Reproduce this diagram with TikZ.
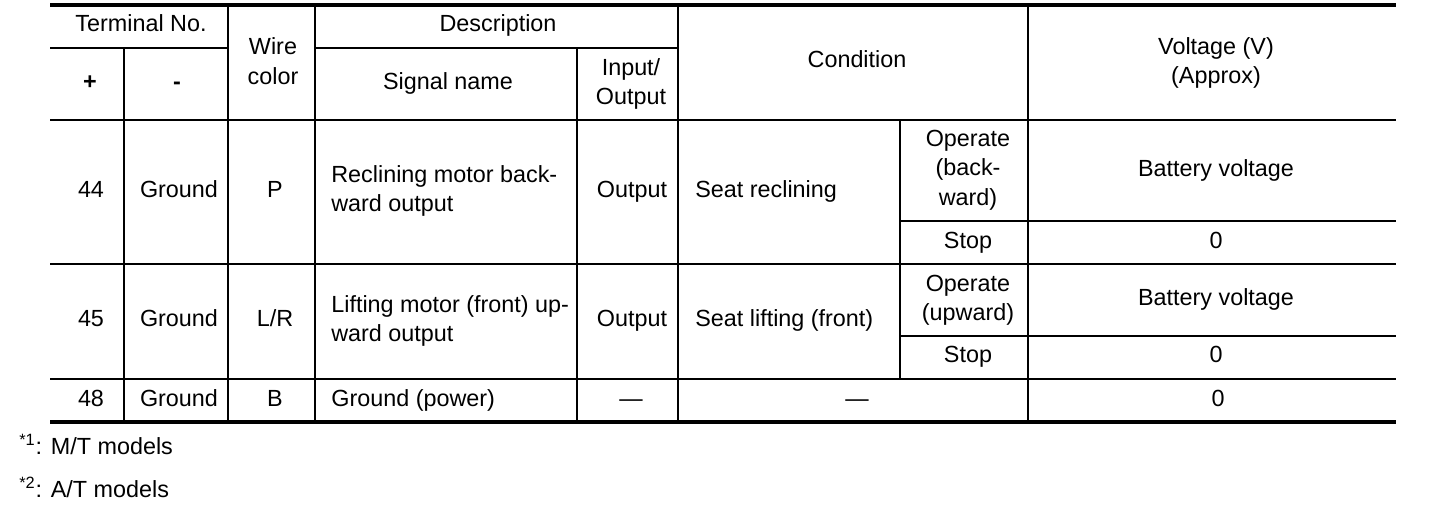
\documentclass[tikz,border=0pt]{standalone}
\usepackage{fontspec}
\setmainfont{Liberation Sans}
\begin{document}
\begin{tikzpicture}[x=0.02cm,y=-0.02cm,
    mline/.style={font=\fontsize{13.3}{16.7}\selectfont, align=center, inner sep=0pt},
    cell/.style={mline, text height=0.9em, text depth=0pt},
    lcell/.style={mline, align=left, anchor=west},
    note/.style={mline, align=left, anchor=base west},
    rule/.style={line width=0.6pt},
    rowrule/.style={line width=1.1pt},
    heavyrule/.style={line width=2.4pt}]
   \useasboundingbox (0,0) rectangle (1440,516);

   % horizontal rules
   \draw[heavyrule] (50,5) -- (1396,5);
   \draw[rule] (50,48) -- (228,48) (315,48) -- (678,48);
   \draw[rowrule] (50,120) -- (1396,120);
   \draw[rule] (900,221) -- (1396,221);
   \draw[rowrule] (50,264) -- (1396,264);
   \draw[rule] (900,336) -- (1396,336);
   \draw[rowrule] (50,379) -- (1396,379);
   \draw[heavyrule] (50,422) -- (1396,422);

   % vertical rules
   \draw[rule] (124,48) -- (124,422);
   \draw[rule] (228,5) -- (228,422);
   \draw[rule] (315,5) -- (315,422);
   \draw[rule] (577,48) -- (577,422);
   \draw[rule] (678,5) -- (678,422);
   \draw[rule] (900,120) -- (900,379);
   \draw[rule] (1028,5) -- (1028,422);

   % header
   \node[cell] (hterm) at (141,24) {Terminal No.};
   \node[mline] (hwire) at (273,61) {Wire\\color};
   \node[cell] (hdesc) at (498,24) {Description};
   \node[cell] (hplus) at (90,82) {\bfseries +};
   \node[cell] (hminus) at (177,82) {\bfseries -};
   \node[cell] (hsig) at (448,82) {Signal name};
   \node[mline] (hio) at (631,84) {Input/\\Output};
   \node[cell] (hcond) at (857,60) {Condition};
   \node[mline] (hvolt) at (1216,63) {Voltage (V)\\(Approx)};

   % terminal 44
   \node[cell] (t44) at (91,190) {44};
   \node[cell] (g44) at (179,190) {Ground};
   \node[cell] (w44) at (275,190) {P};
   \node[lcell] (s44) at (331,191) {Reclining motor back-\\ward output};
   \node[cell] (o44) at (632,190) {Output};
   \node[cell, anchor=west] (c44) at (695,190) {Seat reclining};
   \node[mline] (op44) at (968,170) {Operate\\(back-\\ward)};
   \node[cell] (v44) at (1216,169) {Battery voltage};
   \node[cell] (st44) at (968,241) {Stop};
   \node[cell] (z44) at (1216,241) {0};

   % terminal 45
   \node[cell] (t45) at (91,319) {45};
   \node[cell] (g45) at (179,319) {Ground};
   \node[cell] (w45) at (275,319) {L/R};
   \node[lcell] (s45) at (331,321) {Lifting motor (front) up-\\ward output};
   \node[cell] (o45) at (632,319) {Output};
   \node[cell, anchor=west] (c45) at (695,319) {Seat lifting (front)};
   \node[mline] (op45) at (968,300) {Operate\\(upward)};
   \node[cell] (v45) at (1216,298) {Battery voltage};
   \node[cell] (st45) at (968,355) {Stop};
   \node[cell] (z45) at (1216,355) {0};

   % terminal 48
   \node[cell] (t48) at (91,399) {48};
   \node[cell] (g48) at (179,399) {Ground};
   \node[cell] (w48) at (275,399) {B};
   \node[cell, anchor=west] (s48) at (331,399) {Ground (power)};
   \node[cell] (o48) at (631,399) {---};
   \node[cell] (c48) at (857,399) {---};
   \node[cell] (z48) at (1218,399) {0};

   % notes
   \node[note] (n1) at (19,455) {\textsuperscript{*1}: M/T models};
   \node[note] (n2) at (19,498) {\textsuperscript{*2}: A/T models};
\end{tikzpicture}
\end{document}
